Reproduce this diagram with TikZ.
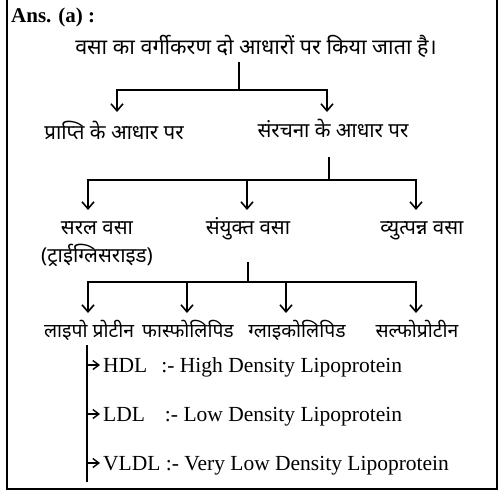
\documentclass[tikz,border=0pt]{standalone}
\usepackage{fontspec}
\setmainfont{Liberation Serif}
\newfontfamily\hin[Script=Devanagari]{Noto Sans}
\usetikzlibrary{arrows.meta}
\tikzset{
  hnode/.style={font=\hin\fontsize{20.5}{24}\selectfont, inner sep=0pt, anchor=base},
  hsmall/.style={font=\hin\fontsize{19.3}{24}\selectfont, inner sep=0pt, anchor=base},
  enode/.style={font=\fontsize{21.5}{24}\selectfont, inner sep=0pt, anchor=base west},
  ln/.style={line width=1.6pt},
  arr/.style={line width=1.6pt, -{Straight Barb[length=7pt,width=12pt,line width=1.6pt]}},
  sarr/.style={line width=1.4pt, -{Straight Barb[length=6pt,width=9pt,line width=1.4pt]}},
}
\begin{document}
\begin{tikzpicture}[x=1pt,y=-1pt]
\useasboundingbox (0,0) rectangle (504,491);
\draw[line width=1.4pt] (7,-2) -- (7,489) -- (497,489) -- (497,-2);
\node[font=\bfseries\fontsize{21}{24}\selectfont, inner sep=0pt, anchor=base west] (ans) at (11,22) {Ans. (a) :};
\node[hnode, font=\hin\fontsize{21.5}{24}\selectfont] (title) at (256,54) {वसा का वर्गीकरण दो आधारों पर किया जाता है।};
\node[hnode] (b1) at (114,139) {प्राप्ति के आधार पर};
\node[hnode] (b2) at (333,137) {संरचना के आधार पर};
\node[hnode] (c1) at (97,234) {सरल वसा};
\node[hnode] (c1b) at (97,262) {(ट्राईग्लिसराइड)};
\node[hnode] (c2) at (248,234) {संयुक्त वसा};
\node[hnode] (c3) at (422,234) {व्युत्पन्न वसा};
\node[hsmall] (d1) at (89,337) {लाइपो प्रोटीन};
\node[hsmall] (d2) at (188,337) {फास्फोलिपिड};
\node[hsmall] (d3) at (297,337) {ग्लाइकोलिपिड};
\node[hsmall] (d4) at (417,337) {सल्फोप्रोटीन};
\node[enode] (e1) at (103,372) {HDL\hspace{14pt}:- High Density Lipoprotein};
\node[enode] (e2) at (103,421) {LDL\hspace{20pt}:- Low Density Lipoprotein};
\node[enode] (e3) at (103,470) {VLDL :- Very Low Density Lipoprotein};
% level 1
\coordinate (t0) at (239,62);
\coordinate (t1) at (239,90);
\draw[ln] (t0) -- (t1);
\draw[arr] (t1) -| (117,112);
\draw[arr] (t1) -| (327,112);
% level 2
\coordinate (s0) at (329,157);
\coordinate (s1) at (329,180);
\draw[ln] (s0) -- (s1);
\draw[arr] (s1) -| (88,210);
\draw[arr] (s1) -- (247,180) -- (247,210);
\draw[arr] (s1) -| (416,210);
% level 3
\coordinate (u0) at (248,262);
\coordinate (u1) at (248,282);
\draw[ln] (u0) -- (u1);
\draw[arr] (u1) -| (88,313);
\draw[arr] (u1) -| (187,313);
\draw[arr] (u1) -| (286,313);
\draw[arr] (u1) -| (416,313);
% lipoprotein branch
\coordinate (v0) at (87,345);
\coordinate (v1) at (87,482);
\draw[ln] (v0) -- (v1);
\draw[sarr] (87,365) -- ([xshift=-3pt]e1.west |- 0,365);
\draw[sarr] (87,414) -- ([xshift=-3pt]e2.west |- 0,414);
\draw[sarr] (87,463) -- ([xshift=-3pt]e3.west |- 0,463);
\end{tikzpicture}
\end{document}
